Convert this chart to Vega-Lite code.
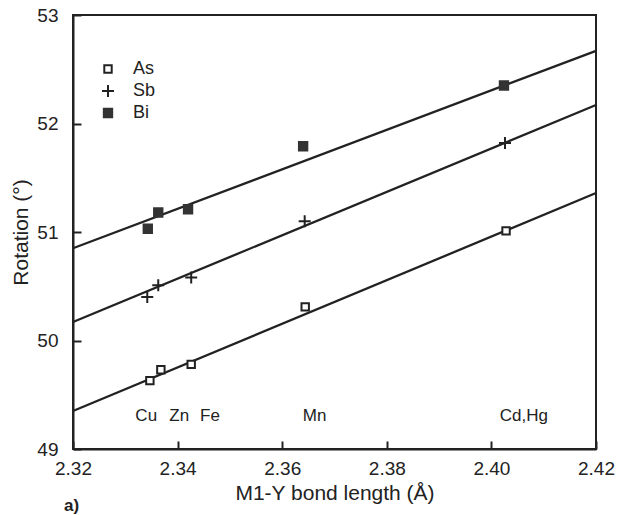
{
  "$schema": "https://vega.github.io/schema/vega-lite/v6.json",
  "width": 523,
  "height": 434,
  "autosize": "none",
  "padding": {"left": 73, "top": 15, "right": 21, "bottom": 66},
  "background": "white",
  "config": {
    "font": "Liberation Sans",
    "view": {"stroke": "#222", "strokeWidth": 2},
    "axis": {
      "grid": false,
      "domainColor": "#222",
      "domainWidth": 2,
      "tickColor": "#222",
      "tickWidth": 2,
      "tickSize": -8,
      "labelColor": "#222",
      "labelFont": "Liberation Sans",
      "labelFontSize": 19,
      "labelFlush": false,
      "labelOverlap": false,
      "titleColor": "#222",
      "titleFont": "Liberation Sans",
      "titleFontSize": 21,
      "titleFontWeight": "normal"
    }
  },
  "title": {
    "text": "a)",
    "orient": "bottom",
    "anchor": "start",
    "frame": "group",
    "dx": -9,
    "offset": -5,
    "fontSize": 17,
    "fontWeight": "bold",
    "color": "#222",
    "font": "Liberation Sans"
  },
  "datasets": {
    "points": [
      {"element": "As", "x": 2.3347, "y": 49.63},
      {"element": "As", "x": 2.3368, "y": 49.73},
      {"element": "As", "x": 2.3426, "y": 49.78},
      {"element": "As", "x": 2.3644, "y": 50.31},
      {"element": "As", "x": 2.4028, "y": 51.01},
      {"element": "Sb", "x": 2.3342, "y": 50.40},
      {"element": "Sb", "x": 2.3363, "y": 50.51},
      {"element": "Sb", "x": 2.3426, "y": 50.58},
      {"element": "Sb", "x": 2.3643, "y": 51.10},
      {"element": "Sb", "x": 2.4026, "y": 51.82},
      {"element": "Bi", "x": 2.3343, "y": 51.03},
      {"element": "Bi", "x": 2.3363, "y": 51.18},
      {"element": "Bi", "x": 2.3420, "y": 51.21},
      {"element": "Bi", "x": 2.3640, "y": 51.79},
      {"element": "Bi", "x": 2.4024, "y": 52.35}
    ],
    "fits": [
      {"element": "As", "x": 2.32, "y": 49.35},
      {"element": "As", "x": 2.42, "y": 51.36},
      {"element": "Sb", "x": 2.32, "y": 50.17},
      {"element": "Sb", "x": 2.42, "y": 52.17},
      {"element": "Bi", "x": 2.32, "y": 50.85},
      {"element": "Bi", "x": 2.42, "y": 52.67}
    ],
    "labels": [
      {"label": "Cu", "x": 2.3340, "y": 49.30},
      {"label": "Zn", "x": 2.3403, "y": 49.30},
      {"label": "Fe", "x": 2.3462, "y": 49.30},
      {"label": "Mn", "x": 2.3662, "y": 49.30},
      {"label": "Cd,Hg", "x": 2.4062, "y": 49.30}
    ]
  },
  "encoding": {
    "x": {
      "field": "x",
      "type": "quantitative",
      "scale": {"domain": [2.32, 2.42], "nice": false, "zero": false},
      "axis": {
        "title": "M1-Y bond length (Å)",
        "values": [2.32, 2.34, 2.36, 2.38, 2.40, 2.42],
        "format": ".2f",
        "labelPadding": 18,
        "titlePadding": 4
      }
    },
    "y": {
      "field": "y",
      "type": "quantitative",
      "scale": {"domain": [49, 53], "nice": false, "zero": false},
      "axis": {
        "title": "Rotation (°)",
        "values": [49, 50, 51, 52, 53],
        "format": "d",
        "labelPadding": 23,
        "titlePadding": 5
      }
    }
  },
  "layer": [
    {
      "data": {"name": "fits"},
      "mark": {"type": "line", "color": "#222", "strokeWidth": 2.3},
      "encoding": {"detail": {"field": "element"}}
    },
    {
      "data": {"name": "points"},
      "mark": {"type": "point", "filled": false, "opacity": 1, "strokeWidth": 2},
      "encoding": {
        "shape": {
          "field": "element",
          "type": "nominal",
          "scale": {"domain": ["As", "Sb", "Bi"], "range": ["square", "M-1,0H1M0,-1V1", "square"]},
          "legend": {
            "title": null,
            "orient": "none",
            "legendX": 26,
            "legendY": 45,
            "padding": 0,
            "rowPadding": 3,
            "labelFontSize": 18,
            "labelFont": "Liberation Sans",
            "labelColor": "#222",
            "labelOffset": 16,
            "symbolStrokeWidth": 2
          }
        },
        "fill": {
          "field": "element",
          "type": "nominal",
          "scale": {"domain": ["As", "Sb", "Bi"], "range": ["white", "transparent", "#333"]}
        },
        "stroke": {
          "field": "element",
          "type": "nominal",
          "scale": {"domain": ["As", "Sb", "Bi"], "range": ["#222", "#222", "#333"]}
        },
        "size": {
          "field": "element",
          "type": "nominal",
          "scale": {"type": "ordinal", "domain": ["As", "Sb", "Bi"], "range": [55, 144, 70]}
        }
      }
    },
    {
      "data": {"name": "labels"},
      "mark": {"type": "text", "font": "Liberation Sans", "fontSize": 17, "color": "#222", "baseline": "middle", "align": "center"},
      "encoding": {"text": {"field": "label"}}
    }
  ]
}
